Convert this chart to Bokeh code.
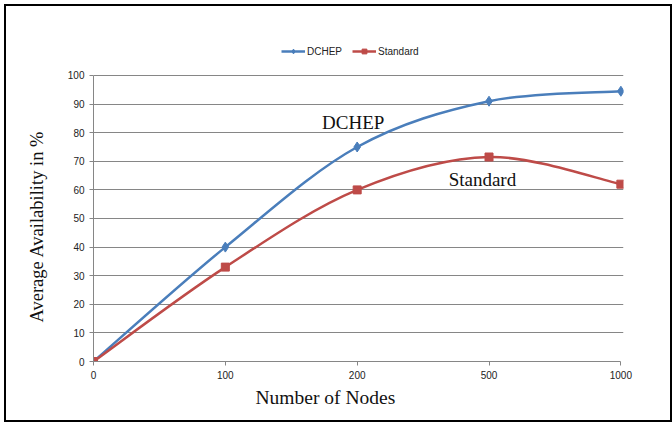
from bokeh.plotting import figure
from bokeh.models import Legend, LegendItem, Label, FixedTicker, Range1d, Title
from bokeh.embed import file_html
from bokeh.resources import INLINE

categories = ["0", "100", "200", "500", "1000"]
dchep = [0, 40, 75, 91, 94.5]
standard = [0, 33, 60, 71.5, 62]

BLUE = "#4A7EBB"
RED = "#BE4B48"

p = figure(width=668, height=418, output_backend="svg", toolbar_location=None,
           x_range=Range1d(0, 4.02), y_range=Range1d(0, 115.73),
           min_border_left=87, min_border_right=51, min_border_top=24, min_border_bottom=63)
p.styles = {"border": "2px solid black", "box-sizing": "border-box",
            "margin-left": "4px", "margin-top": "4px"}
p.outline_line_color = None
p.background_fill_color = "white"
p.border_fill_color = "white"

xs = list(range(len(categories)))


def bezier_parts(x, y):
    n = len(x)
    x0, y0, x1, y1, cx0, cy0, cx1, cy1 = [], [], [], [], [], [], [], []
    for i in range(n - 1):
        pa = max(i - 1, 0)
        pb = min(i + 2, n - 1)
        x0.append(x[i]); y0.append(y[i])
        x1.append(x[i + 1]); y1.append(y[i + 1])
        cx0.append(x[i] + (x[i + 1] - x[pa]) / 6.0)
        cy0.append(y[i] + (y[i + 1] - y[pa]) / 6.0)
        cx1.append(x[i + 1] - (x[pb] - x[i]) / 6.0)
        cy1.append(y[i + 1] - (y[pb] - y[i]) / 6.0)
    return dict(x0=x0, y0=y0, x1=x1, y1=y1, cx0=cx0, cy0=cy0, cx1=cx1, cy1=cy1)


b1 = p.bezier(line_color=BLUE, line_width=2.5, **bezier_parts(xs, dchep))
m1 = p.scatter(xs, dchep, marker="diamond", size=10, fill_color=BLUE, line_color=BLUE)
b2 = p.bezier(line_color=RED, line_width=2.5, **bezier_parts(xs, standard))
m2 = p.scatter(xs, standard, marker="square", size=8, fill_color=RED, line_color=RED)

# axes
p.xaxis.ticker = FixedTicker(ticks=xs)
p.xaxis.major_label_overrides = {i: c for i, c in enumerate(categories)}
p.xaxis.bounds = (0, 4)
p.yaxis.ticker = FixedTicker(ticks=list(range(0, 101, 10)))
p.yaxis.bounds = (0, 100)
for ax in (p.xaxis[0], p.yaxis[0]):
    ax.axis_line_color = "#868686"
    ax.major_tick_line_color = "#868686"
    ax.major_tick_in = 0
    ax.major_tick_out = 4
    ax.minor_tick_line_color = None
    ax.major_label_text_font = "Liberation Sans"
    ax.major_label_text_font_size = "10px"
    ax.major_label_text_color = "#222222"
    ax.major_label_standoff = 5
p.xgrid.grid_line_color = None
p.ygrid.grid_line_color = "#868686"
p.ygrid.grid_line_width = 1

serif = "Liberation Serif"
p.add_layout(Title(text="Number of Nodes", text_font=serif, text_font_size="19.5px",
                   text_font_style="normal", text_color="#111111", align="left",
                   offset=162, standoff=6), "below")
p.add_layout(Title(text="Average Availability  in %", text_font=serif, text_font_size="18.5px",
                   text_font_style="normal", text_color="#111111", align="left",
                   offset=39, standoff=35), "left")
p.add_layout(Label(x=1.97, y=83.7, text="DCHEP", text_font=serif,
                   text_font_size="19px", text_align="center", text_baseline="middle",
                   text_color="#111111"))
p.add_layout(Label(x=2.95, y=63.6, text="Standard", text_font=serif,
                   text_font_size="19px", text_align="center", text_baseline="middle",
                   text_color="#111111"))

legend = Legend(items=[LegendItem(label="DCHEP", renderers=[b1, m1]),
                       LegendItem(label="Standard", renderers=[b2, m2])],
                location=(188, 304), orientation="horizontal",
                label_text_font="Liberation Sans", label_text_font_size="10px",
                label_text_color="#222222", glyph_width=24, glyph_height=12,
                label_standoff=2, spacing=10, padding=2, margin=0,
                border_line_color=None, background_fill_alpha=0)
p.add_layout(legend, "center")

open("out.html", "w").write(file_html(p, INLINE))
